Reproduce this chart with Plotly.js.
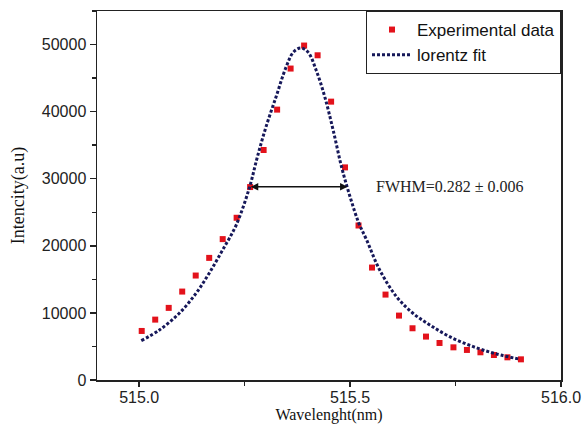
<!DOCTYPE html>
<html>
<head>
<meta charset="utf-8">
<script src="https://cdn.plot.ly/plotly-3.0.1.min.js"></script>
<style>html,body{margin:0;padding:0;background:#fff;}#chart{width:584px;height:432px;}</style>
</head>
<body>
<div id="chart"></div>
<script>
var expWavelength = [515.006, 515.038, 515.070, 515.102, 515.134, 515.166, 515.198, 515.231, 515.263, 515.295,
  515.327, 515.359, 515.391, 515.423, 515.455, 515.488, 515.520, 515.552, 515.584, 515.616,
  515.648, 515.680, 515.712, 515.745, 515.777, 515.809, 515.841, 515.873, 515.905];
var expIntensity = [7310, 9000, 10750, 13180, 15570, 18200, 21000, 24180, 28760, 34280,
  40300, 46420, 49850, 48400, 41490, 31690, 23030, 16760, 12730, 9600,
  7710, 6470, 5520, 4870, 4480, 4130, 3730, 3380, 3080];

// Lorentz fit curve
var fitWavelength = [515.005, 515.048, 515.095, 515.135, 515.166, 515.198, 515.230, 515.261, 515.280, 515.300,
  515.325, 515.348, 515.366, 515.383, 515.400, 515.420, 515.440, 515.460, 515.480, 515.500,
  515.520, 515.539, 515.570, 515.610, 515.649, 515.689, 515.736, 515.792, 515.847, 515.903];
var fitIntensity = [5870, 7460, 9950, 12940, 15920, 19400, 23100, 28600, 33200, 37600,
  42300, 46600, 48900, 49500, 48900, 46100, 42200, 37200, 31700, 27300,
  23500, 20900, 16420, 12430, 9950, 8210, 6460, 4970, 3880, 3090];

// FWHM marker
var fwhmLeft = 515.261, fwhmRight = 515.494, fwhmLevel = 28800;
var fwhmLabel = "FWHM=0.282 \u00b1 0.006";

var sans = "Liberation Sans, Arial, sans-serif";
var serif = "Liberation Serif, Times New Roman, serif";

var traces = [
  {
    x: expWavelength, y: expIntensity, type: "scatter", mode: "markers",
    name: "Experimental data",
    marker: {symbol: "square", size: 6, color: "#e3121b"}
  },
  {
    x: fitWavelength, y: fitIntensity, type: "scatter", mode: "lines",
    name: "lorentz fit",
    line: {color: "#16185a", width: 3, dash: "3px,2px", shape: "spline", smoothing: 1}
  }
];

var layout = {
  width: 584, height: 432,
  margin: {l: 97, r: 23, t: 11, b: 52},
  paper_bgcolor: "#fff", plot_bgcolor: "#fff",
  showlegend: true,
  legend: {
    x: 1, xanchor: "right", y: 1, yanchor: "top",
    bgcolor: "#fff", bordercolor: "#222", borderwidth: 1,
    font: {family: sans, size: 17, color: "#111"},
    itemwidth: 40, tracegroupgap: 0
  },
  xaxis: {
    range: [514.9, 516.0], dtick: 0.5, tick0: 515, tickformat: ".1f",
    ticks: "outside", ticklen: 5, tickwidth: 1.5, tickcolor: "#222",
    minor: {dtick: 0.25, ticks: "outside", ticklen: 4, tickwidth: 1.5, tickcolor: "#222"},
    showline: true, linecolor: "#222", linewidth: 1.5, mirror: true,
    showgrid: false, zeroline: false, ticklabelstandoff: -3,
    tickfont: {family: sans, size: 16, color: "#222"},
    title: {text: "Wavelenght(nm)", font: {family: serif, size: 16, color: "#111"}, standoff: 0}
  },
  yaxis: {
    range: [0, 55000], dtick: 10000, tick0: 0, tickformat: "d",
    ticks: "outside", ticklen: 6, tickwidth: 1.5, tickcolor: "#222",
    minor: {dtick: 5000, ticks: "outside", ticklen: 4, tickwidth: 1.5, tickcolor: "#222"},
    showline: true, linecolor: "#222", linewidth: 1.5, mirror: true,
    showgrid: false, zeroline: false,
    tickfont: {family: sans, size: 16, color: "#222"},
    title: {text: "Intencity(a.u)", font: {family: serif, size: 18, color: "#111"}, standoff: 12}
  },
  annotations: [
    {
      x: fwhmRight, y: fwhmLevel, ax: fwhmLeft, ay: fwhmLevel,
      xref: "x", yref: "y", axref: "x", ayref: "y",
      text: "", showarrow: true, arrowhead: 2, startarrowhead: 2,
      arrowside: "end+start", arrowsize: 1, arrowwidth: 1.5, arrowcolor: "#111",
      standoff: 0, startstandoff: 0
    },
    {
      x: fwhmRight + 0.062, y: fwhmLevel, xref: "x", yref: "y",
      xanchor: "left", yanchor: "middle", showarrow: false,
      text: fwhmLabel, font: {family: serif, size: 16, color: "#222"}
    }
  ]
};

Plotly.newPlot("chart", traces, layout, {staticPlot: true, displayModeBar: false});
</script>
</body>
</html>
